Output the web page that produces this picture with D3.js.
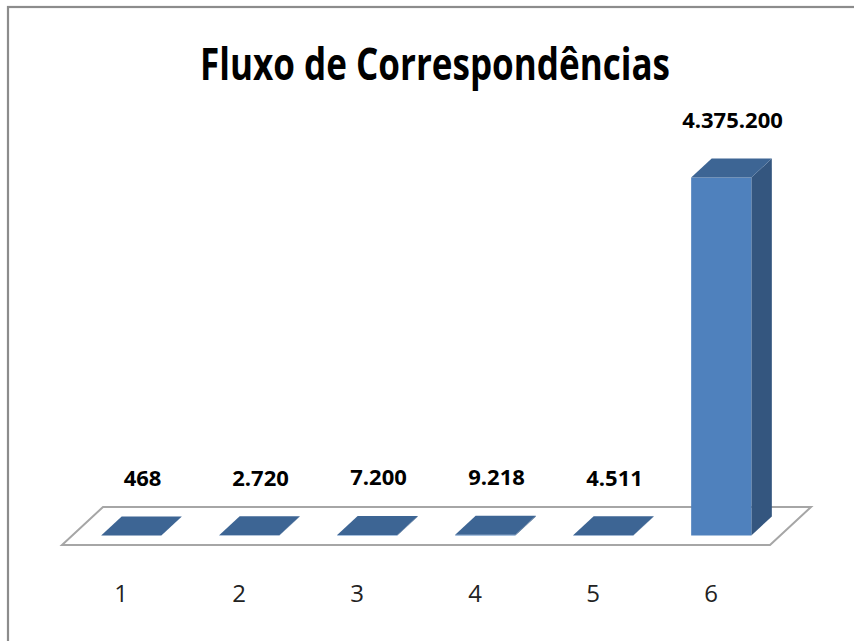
<!DOCTYPE html>
<html>
<head>
<meta charset="utf-8">
<script src="https://cdn.jsdelivr.net/npm/d3@7/dist/d3.min.js"></script>
<style>
  html, body { margin: 0; padding: 0; background: #fff; }
  svg { display: block; }
</style>
</head>
<body>
<script>
// ---- data ----
const categories = ["1", "2", "3", "4", "5", "6"];
const values = [468, 2720, 7200, 9218, 4511, 4375200];
const title = "Fluxo de Correspondências";

// ---- layout ----
const W = 854, H = 641;
const floorFrontY = 545;
const depthX = 41, depthY = -38;       // full floor depth offset
const barD0 = 0.25, barD1 = 0.75;      // bar occupies middle half of depth

const svg = d3.select("body").append("svg")
  .attr("width", W).attr("height", H);

// outer chart border (cropped at right / bottom)
svg.append("rect")
  .attr("x", 8).attr("y", 7)
  .attr("width", 1000).attr("height", 1000)
  .attr("fill", "#fff")
  .attr("stroke", "#8c8c8c").attr("stroke-width", 2.2);

// title
svg.append("text")
  .attr("x", 200).attr("y", 80)
  .attr("font-family", "'Open Sans', 'Noto Sans', sans-serif")
  .attr("font-weight", "bold")
  .attr("font-size", 45)
  .attr("textLength", 470)
  .attr("lengthAdjust", "spacingAndGlyphs")
  .attr("fill", "#000")
  .text(title);

// scales
const x = d3.scaleBand()
  .domain(categories)
  .range([62, 770])
  .paddingInner(0.49)
  .paddingOuter(0.245);

const y = d3.scaleLinear()
  .domain([0, 5000000])
  .range([floorFrontY, floorFrontY - 409.1]);

const fmt = d3.formatLocale({ decimal: ",", thousands: ".", grouping: [3], currency: ["R$", ""] }).format(",d");

// floor
const xr = x.range();
const floorPts = [
  [xr[0], floorFrontY],
  [xr[1], floorFrontY],
  [xr[1] + depthX, floorFrontY + depthY],
  [xr[0] + depthX, floorFrontY + depthY]
];
svg.append("path")
  .attr("d", d3.line()(floorPts) + "Z")
  .attr("fill", "#fff")
  .attr("stroke", "#a6a6a6")
  .attr("stroke-width", 2);

// bars
const data = categories.map((c, i) => ({ c, v: values[i] }));
const bw = x.bandwidth();
const fx0 = barD0 * depthX, fy0 = barD0 * depthY;
const bx = (barD1 - barD0) * depthX, by = (barD1 - barD0) * depthY;

const g = svg.append("g");
data.forEach(d => {
  const left = x(d.c) + fx0;
  const right = left + bw;
  const bottom = y(0) + fy0;
  const top = y(d.v) + fy0;
  // right side
  g.append("path")
    .attr("d", d3.line()([[right, bottom], [right + bx, bottom + by], [right + bx, top + by], [right, top]]) + "Z")
    .attr("fill", "#34567f");
  // front
  g.append("rect")
    .attr("x", left).attr("y", top)
    .attr("width", bw).attr("height", Math.max(0, bottom - top))
    .attr("fill", "#4f81bd");
  // top
  g.append("path")
    .attr("d", d3.line()([[left, top], [right, top], [right + bx, top + by], [left + bx, top + by]]) + "Z")
    .attr("fill", "#3d6594");
});

// value labels
svg.append("g").selectAll("text")
  .data(data).join("text")
  .attr("x", d => x(d.c) + bw / 2 + 0.5 * depthX + 1)
  .attr("y", d => y(d.v) + 0.5 * depthY - 40)
  .attr("text-anchor", "middle")
  .attr("font-family", "'Open Sans', 'Noto Sans', sans-serif")
  .attr("font-weight", "bold")
  .attr("font-size", 22)
  .attr("fill", "#000")
  .text(d => fmt(d.v));

// category labels
svg.append("g").selectAll("text")
  .data(categories).join("text")
  .attr("x", c => x(c) + bw / 2)
  .attr("y", 602)
  .attr("text-anchor", "middle")
  .attr("font-family", "'Open Sans', 'Noto Sans', sans-serif")
  .attr("font-size", 24)
  .attr("fill", "#222")
  .text(c => c);
</script>
</body>
</html>
